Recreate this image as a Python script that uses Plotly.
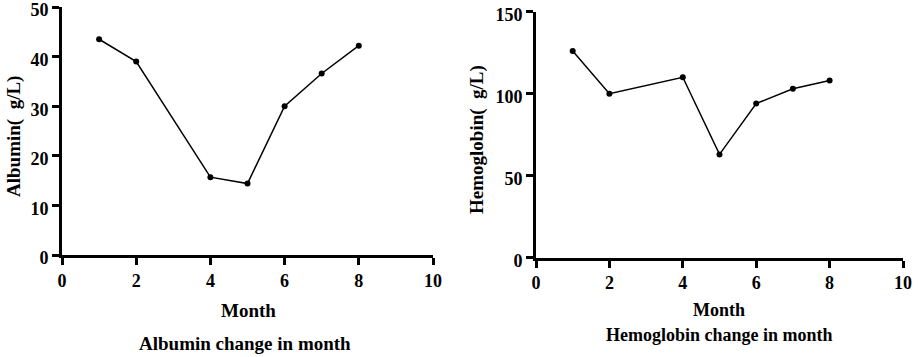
import plotly.graph_objects as go

months = [1, 2, 4, 5, 6, 7, 8]
albumin = [43.5, 39.0, 15.7, 14.4, 30.0, 36.6, 42.2]
hemoglobin = [126, 100, 110, 63, 94, 103, 108]

x_ticks = [0, 2, 4, 6, 8, 10]
alb_ticks = [0, 10, 20, 30, 40, 50]
hb_ticks = [0, 50, 100, 150]

FONT = "Liberation Serif"
W, H = 918, 357

fig = go.Figure()
fig.add_trace(go.Scatter(x=months, y=albumin, mode="lines+markers",
                         line=dict(color="black", width=1.5),
                         marker=dict(color="black", size=6),
                         xaxis="x", yaxis="y", showlegend=False))
fig.add_trace(go.Scatter(x=months, y=hemoglobin, mode="lines+markers",
                         line=dict(color="black", width=1.5),
                         marker=dict(color="black", size=6),
                         xaxis="x2", yaxis="y2", showlegend=False))

def bold(vals):
    return ["<b>%d</b>" % v for v in vals]

axis_common = dict(showline=True, linecolor="black", linewidth=3,
                   ticks="outside", ticklen=7, tickwidth=3, tickcolor="black",
                   showgrid=False, zeroline=False, automargin=False,
                   ticklabeloverflow="allow",
                   tickfont=dict(family=FONT, size=18, color="black"))

fig.update_layout(
    width=W, height=H,
    margin=dict(l=0, r=0, t=0, b=0, pad=0, autoexpand=False),
    plot_bgcolor="white", paper_bgcolor="white",
    xaxis=dict(domain=[62/W, 433/W], range=[0, 10], tickvals=x_ticks,
               ticktext=bold(x_ticks), anchor="y", **axis_common),
    yaxis=dict(domain=[1-255/H, 1-7/H], range=[0, 50], tickvals=alb_ticks,
               ticktext=bold(alb_ticks), anchor="x", ticklabelshift=3, **axis_common),
    xaxis2=dict(domain=[536/W, 903/W], range=[0, 10], tickvals=x_ticks,
                ticktext=bold(x_ticks), anchor="y2", **axis_common),
    yaxis2=dict(domain=[1-257.7/H, 1-11.7/H], range=[0, 150], tickvals=hb_ticks,
                ticktext=bold(hb_ticks), anchor="x2", ticklabelshift=3, **axis_common),
)

def ann(text, x, y, size, angle=0):
    fig.add_annotation(text="<b>%s</b>" % text, x=x/W, y=1-y/H, xref="paper", yref="paper",
                       showarrow=False, textangle=angle,
                       font=dict(family=FONT, size=size, color="black"),
                       xanchor="center", yanchor="middle")

ann("Month", 248, 310, 19)
ann("Albumin change in month", 245, 343, 19)
ann("Albumin(\u2002g/L)", 14, 137, 19, -90)
ann("Month", 719, 310, 18)
ann("Hemoglobin change in month", 719, 335, 18)
ann("Hemoglobin(\u2002g/L)", 477, 140, 19, -90)

fig.write_html("out.html", config={"displayModeBar": False},
               post_script="document.body.style.margin='0';document.body.style.overflow='hidden';")
